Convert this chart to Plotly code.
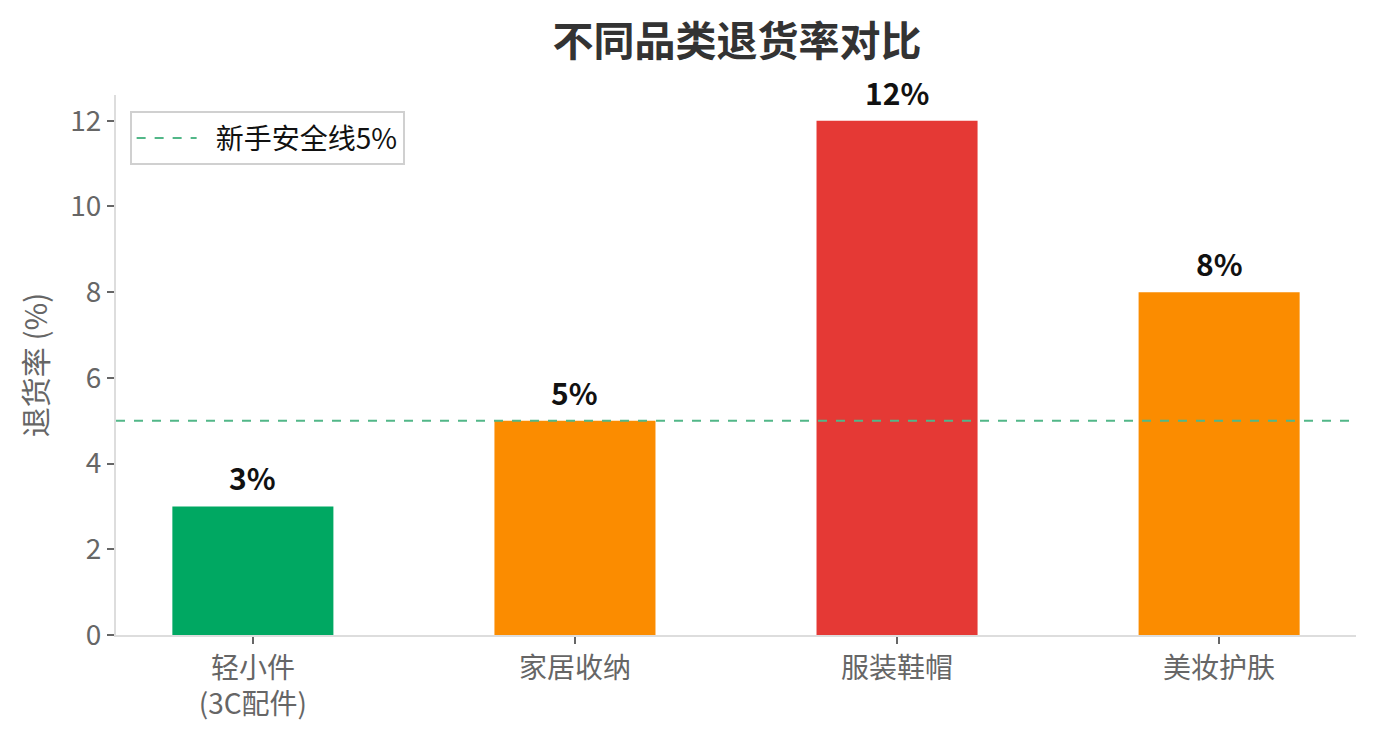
import plotly.graph_objects as go

categories = ["轻小件<br>(3C配件)", "家居收纳", "服装鞋帽", "美妆护肤"]
return_rates = [3, 5, 12, 8]
bar_colors = ["#00A862", "#FB8C00", "#E53935", "#FB8C00"]
value_labels = ["3%", "5%", "12%", "8%"]
safe_line_value = 5
safe_line_name = "新手安全线5%"
y_ticks = [0, 2, 4, 6, 8, 10, 12]

FONT = "Noto Sans CJK SC, Noto Sans, sans-serif"

fig = go.Figure()
fig.add_trace(go.Bar(
    x=list(range(len(categories))),
    y=return_rates,
    marker=dict(color=bar_colors, line=dict(width=0)),
    width=0.5,
    showlegend=False,
    hoverinfo="skip",
))
fig.add_trace(go.Scatter(
    x=[-0.425, 3.425],
    y=[safe_line_value, safe_line_value],
    mode="lines",
    line=dict(color="#52B788", width=2, dash="dash"),
    name="\u2002" + safe_line_name,
))

for i, (v, lab) in enumerate(zip(return_rates, value_labels)):
    fig.add_annotation(
        x=i, y=v, text=f"<b>{lab}</b>", showarrow=False,
        yanchor="bottom", yshift=5,
        font=dict(family=FONT, size=30, color="#111111"),
    )

fig.update_layout(
    width=1376, height=735,
    margin=dict(l=116, r=20, t=95, b=100),
    paper_bgcolor="white", plot_bgcolor="white",
    title=dict(
        text="<b>不同品类退货率对比</b>",
        x=0.5356, xanchor="center", y=0.943, yanchor="middle",
        font=dict(family=FONT, size=41, color="#333333"),
    ),
    font=dict(family=FONT, color="#666666"),
    bargap=0.5,
    legend=dict(
        x=0.011, y=0.97, xanchor="left", yanchor="top",
        bgcolor="white", bordercolor="#D0D0D0", borderwidth=2,
        font=dict(family=FONT, size=28, color="#111111"),
        itemwidth=60,
    ),
    xaxis=dict(
        range=[-0.425, 3.425],
        tickmode="array",
        tickvals=list(range(len(categories))),
        ticktext=categories,
        tickfont=dict(family=FONT, size=28, color="#666666"),
        showgrid=False, zeroline=False,
        showline=True, linecolor="#DDDDDD", linewidth=2,
        ticks="outside", ticklen=7, tickcolor="#666666", tickwidth=1.5,
    ),
    yaxis=dict(
        range=[0, 12.6],
        tickmode="array", tickvals=y_ticks,
        tickfont=dict(family=FONT, size=28, color="#666666"),
        title=dict(text="退货率 (%)", font=dict(family=FONT, size=30, color="#666666"), standoff=14),
        showgrid=False, zeroline=False,
        showline=True, linecolor="#DDDDDD", linewidth=2,
        ticks="outside", ticklen=7, tickcolor="#666666", tickwidth=1.5,
    ),
)

fig.write_html("out.html")
